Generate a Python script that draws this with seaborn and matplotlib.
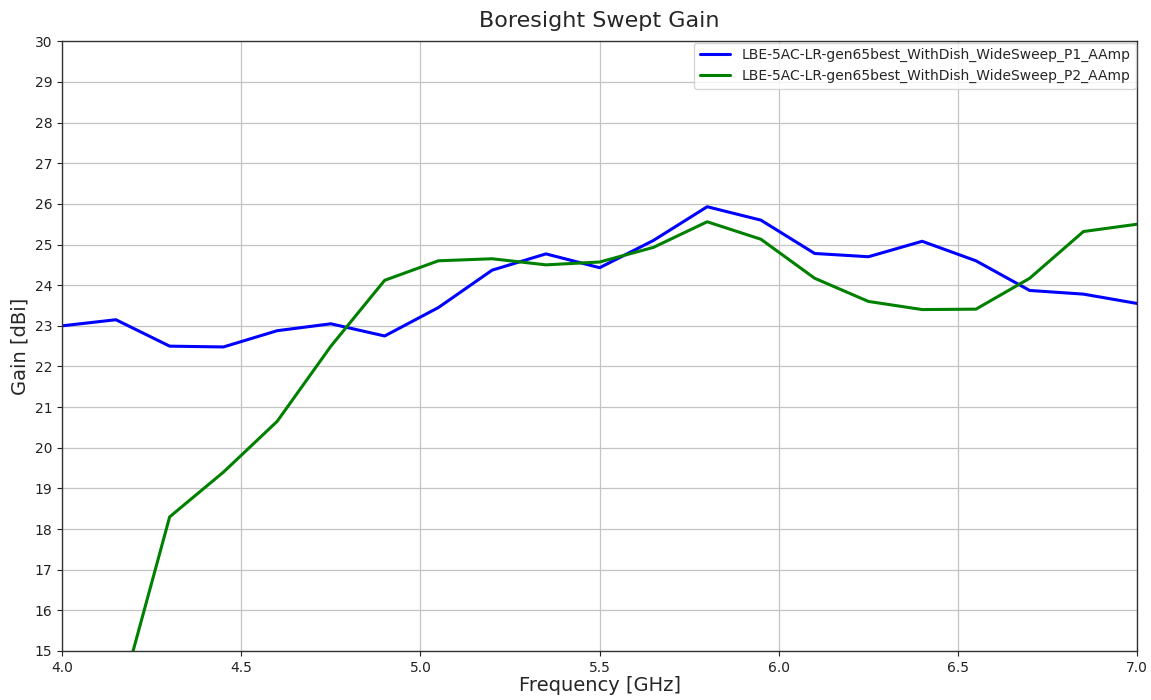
import numpy as np
import pandas as pd
import matplotlib
matplotlib.use("Agg")
import matplotlib.pyplot as plt
import seaborn as sns

freq = [4.0, 4.15, 4.3, 4.45, 4.6, 4.75, 4.9, 5.05, 5.2, 5.35, 5.5,
        5.65, 5.8, 5.95, 6.1, 6.25, 6.4, 6.55, 6.7, 6.85, 7.0]
gain_p1 = [23.0, 23.15, 22.5, 22.48, 22.88, 23.05, 22.75, 23.45, 24.37, 24.77, 24.43,
           25.1, 25.93, 25.6, 24.78, 24.7, 25.08, 24.6, 23.87, 23.78, 23.55]
gain_p2 = [12.0, 13.45, 18.3, 19.4, 20.65, 22.5, 24.12, 24.6, 24.65, 24.5, 24.57,
           24.93, 25.56, 25.13, 24.17, 23.6, 23.4, 23.41, 24.17, 25.32, 25.5]
names = ["LBE-5AC-LR-gen65best_WithDish_WideSweep_P1_AAmp",
         "LBE-5AC-LR-gen65best_WithDish_WideSweep_P2_AAmp"]

df = pd.DataFrame({"freq": freq * 2,
                   "gain": gain_p1 + gain_p2,
                   "trace": [names[0]] * len(freq) + [names[1]] * len(freq)})

sns.set_style("ticks")
plt.rcParams["font.family"] = ["DejaVu Sans"]

fig, ax = plt.subplots(figsize=(11.51, 7.0), dpi=100)
fig.subplots_adjust(left=0.054, right=0.988, top=0.941, bottom=0.07)

sns.lineplot(data=df, x="freq", y="gain", hue="trace",
             palette=["#0000ff", "#008000"], linewidth=2.2, ax=ax)

ax.set_xlim(4.0, 7.0)
ax.set_ylim(15, 30)
ax.set_yticks(np.arange(15, 31, 1))
ax.set_xticks(np.arange(4.0, 7.01, 0.5))
ax.grid(True, color="#c4c4c4", linewidth=0.9)
ax.tick_params(labelsize=10, colors="#222222")
for s in ax.spines.values():
    s.set_color("#333333")
    s.set_linewidth(1.0)

ax.set_title("Boresight Swept Gain", fontsize=16, pad=10)
ax.set_xlabel("Frequency [GHz]", fontsize=14, labelpad=1)
ax.set_ylabel("Gain [dBi]", fontsize=14)
ax.legend(title=None, loc="upper right", fontsize=10, borderaxespad=0.1,
          handlelength=2.2, framealpha=0.8)

fig.savefig("out.png", dpi=100)
